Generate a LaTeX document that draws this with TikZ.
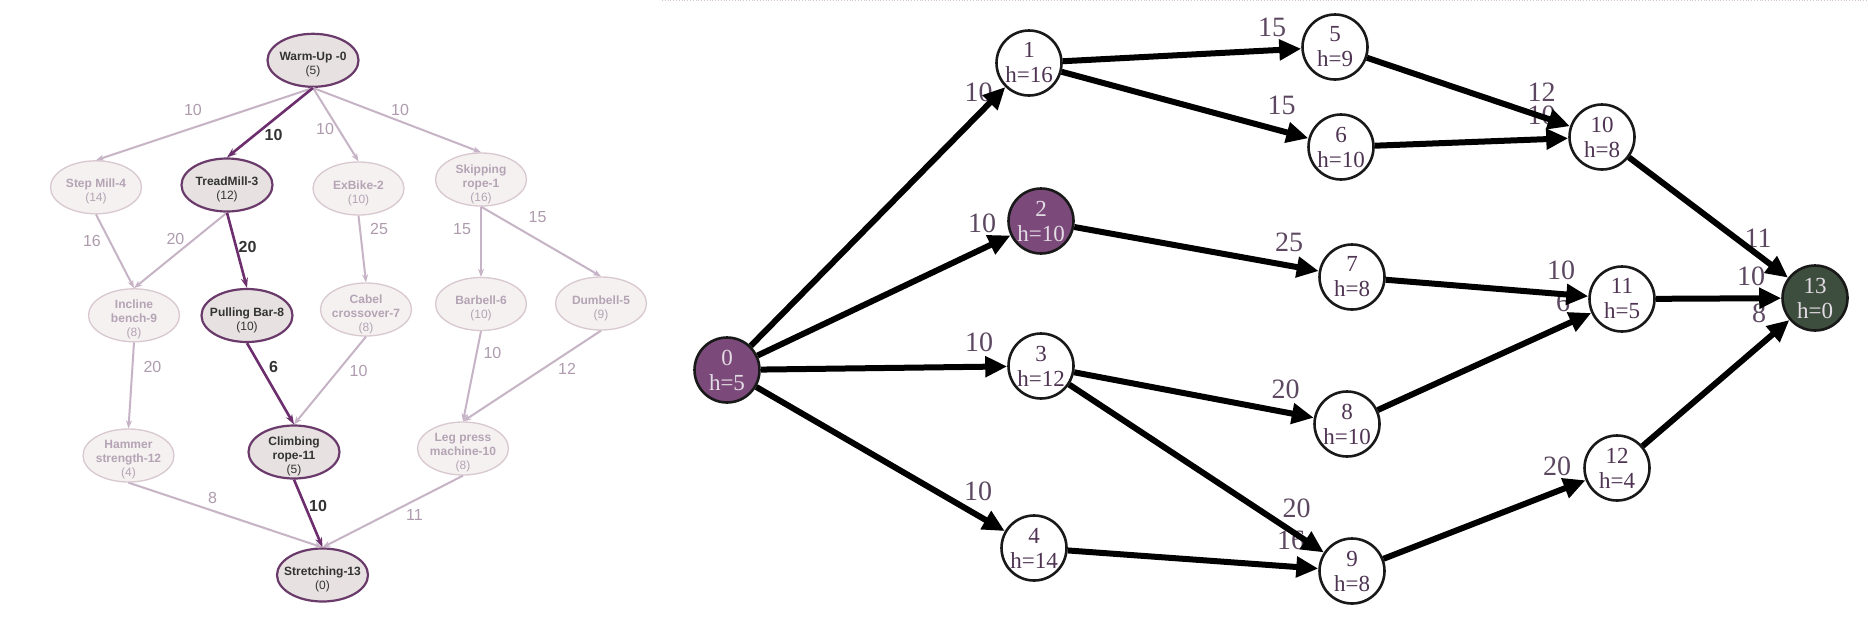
\documentclass[tikz,border=0pt]{standalone}
\usepackage{fontspec}
\setmainfont{Liberation Serif}
\newfontfamily\lsans{Liberation Sans}
\usetikzlibrary{arrows.meta,shapes.geometric}
\definecolor{gline}{HTML}{C6B4C6}
\definecolor{glab}{HTML}{AE9CAE}
\definecolor{gtextc}{HTML}{B4A4B4}
\definecolor{gfill}{HTML}{F5F1F1}
\definecolor{gborder}{HTML}{D8C8D0}
\definecolor{pline}{HTML}{6C2E6C}
\definecolor{afill}{HTML}{E7E1E1}
\definecolor{aborder}{HTML}{6A3A6A}
\definecolor{atext}{HTML}{333333}
\definecolor{rtext}{HTML}{4E3452}
\definecolor{rlab}{HTML}{5C4860}
\definecolor{rpurple}{HTML}{7B4A7B}
\definecolor{rgreen}{HTML}{3E4E3E}
\definecolor{rlight}{HTML}{E4DCE4}
\definecolor{topline}{HTML}{D4C4CC}
\begin{document}
\begin{tikzpicture}[x=1pt,y=-1pt,
  gnode/.style={ellipse,draw=gborder,fill=gfill,line width=1.3pt,minimum width=91pt,minimum height=53pt,inner sep=0pt},
  anode/.style={ellipse,draw=aborder,fill=afill,line width=2.2pt,minimum width=91pt,minimum height=53pt,inner sep=0pt},
  gtxt/.style={text=gtextc,font=\lsans\fontsize{12}{14}\selectfont,align=center,inner sep=0pt,yshift=-4.5pt},
  atxt/.style={text=atext,font=\lsans\fontsize{12}{14}\selectfont,align=center,inner sep=0pt,yshift=-4.5pt},
  gedge/.style={draw=gline,line width=2pt,-{Stealth[length=8pt,width=6pt]}},
  aedge/.style={draw=pline,line width=2.6pt,-{Stealth[length=10pt,width=7pt]}},
  glabel/.style={text=glab,font=\lsans\fontsize{16}{16}\selectfont,inner sep=0pt},
  alabel/.style={text=atext,font=\lsans\bfseries\fontsize{16}{16}\selectfont,inner sep=0pt},
  rnode/.style={circle,draw=black!90,line width=2.6pt,fill=white,minimum size=65pt,inner sep=0pt,text=rtext,align=center,font=\fontsize{23}{25}\selectfont},
  redge/.style={draw=black,line width=6pt,-{Triangle[length=22pt,width=20pt]}},
  rlabel/.style={text=rlab,font=\fontsize{28}{28}\selectfont,inner sep=0pt}
]
\useasboundingbox (0,0) rectangle (1868,622);
\fill[white] (0,0) rectangle (1868,622);
\draw[topline,dotted,line width=0.8pt] (662,0.6) -- (1868,0.6);

% ---------------- left panel: nodes ----------------
\node[anode] (L0) at (313,60.3) {};
\node[atxt] (L0t) at (L0) {\textbf{Warm-Up -0}\\(5)};
\node[gnode] (L4) at (96,187.3) {};
\node[gtxt] (L4t) at (L4) {\textbf{Step Mill-4}\\(14)};
\node[anode] (L3) at (227,185) {};
\node[atxt] (L3t) at (L3) {\textbf{TreadMill-3}\\(12)};
\node[gnode] (L2) at (358.5,188.5) {};
\node[gtxt] (L2t) at (L2) {\textbf{ExBike-2}\\(10)};
\node[gnode] (L1) at (481,179.5) {};
\node[gtxt] (L1t) at (L1) {\textbf{Skipping}\\\textbf{rope-1}\\(16)};
\node[gnode] (L9) at (134,315.3) {};
\node[gtxt] (L9t) at (L9) {\textbf{Incline}\\\textbf{bench-9}\\(8)};
\node[anode] (L8) at (247,315.5) {};
\node[atxt] (L8t) at (L8) {\textbf{Pulling Bar-8}\\(10)};
\node[gnode] (L7) at (366,309.5) {};
\node[gtxt] (L7t) at (L7) {\textbf{Cabel}\\\textbf{crossover-7}\\(8)};
\node[gnode] (L6) at (481,304) {};
\node[gtxt] (L6t) at (L6) {\textbf{Barbell-6}\\(10)};
\node[gnode] (L5) at (601,303.5) {};
\node[gtxt] (L5t) at (L5) {\textbf{Dumbell-5}\\(9)};
\node[gnode] (L12) at (128.5,455.5) {};
\node[gtxt] (L12t) at (L12) {\textbf{Hammer}\\\textbf{strength-12}\\(4)};
\node[anode] (L11) at (294,452) {};
\node[atxt] (L11t) at (L11) {\textbf{Climbing}\\\textbf{rope-11}\\(5)};
\node[gnode] (L10) at (463,448.5) {};
\node[gtxt] (L10t) at (L10) {\textbf{Leg press}\\\textbf{machine-10}\\(8)};
\node[anode] (L13) at (322.5,575) {};
\node[atxt] (L13t) at (L13) {\textbf{Stretching-13}\\(0)};

% ---------------- left panel: edges ----------------
\draw[gedge] (L0.south) -- (L4.north);
\draw[gedge] (L0.south) -- (L2.north);
\draw[gedge] (L0.south) -- (L1.north);
\draw[gedge] (L4.south) -- (L9.north);
\draw[gedge] (L3.south) -- (L9.north);
\draw[gedge] (L2.south) -- (L7.north);
\draw[gedge] (L1.south) -- (L6.north);
\draw[gedge] (L1.south) -- (L5.north);
\draw[gedge] (L9.south) -- (L12.north);
\draw[gedge] (L7.south) -- (L11.north);
\draw[gedge] (L6.south) -- (L10.north);
\draw[gedge] (L5.south) -- (L10.north);
\draw[gedge] (L12.south) -- (L13.north);
\draw[gedge] (L10.south) -- (L13.north);
\draw[aedge] (L0.south) -- (L3.north);
\draw[aedge] (L3.south) -- (L8.north);
\draw[aedge] (L8.south) -- (L11.north);
\draw[aedge] (L11.south) -- (L13.north);

% ---------------- left panel: edge labels ----------------
\node[glabel] (l04) at (193,110) {10};
\node[alabel] (l03) at (273.5,135) {10};
\node[glabel] (l02) at (325,129) {10};
\node[glabel] (l01) at (400,110) {10};
\node[glabel] (l49) at (92,240.5) {16};
\node[glabel] (l39) at (175.5,239) {20};
\node[alabel] (l38) at (247.5,247) {20};
\node[glabel] (l27) at (379,229) {25};
\node[glabel] (l16) at (462,229) {15};
\node[glabel] (l15) at (537.6,217) {15};
\node[glabel] (l912) at (152.5,367) {20};
\node[alabel] (l811) at (273.6,367) {6};
\node[glabel] (l711) at (358.5,371) {10};
\node[glabel] (l610) at (492.4,353) {10};
\node[glabel] (l510) at (567,369) {12};
\node[glabel] (l1213) at (212.6,498) {8};
\node[alabel] (l1113) at (318,506) {10};
\node[glabel] (l1013) at (414.5,515) {11};

% ---------------- right panel: nodes ----------------
\node[rnode,fill=rpurple,text=rlight] (R0) at (727,370) {0\\h=5};
\node[rnode] (R1) at (1029,63) {1\\h=16};
\node[rnode,fill=rpurple,text=rlight] (R2) at (1041,221) {2\\h=10};
\node[rnode] (R3) at (1041,366) {3\\h=12};
\node[rnode] (R4) at (1034,548) {4\\h=14};
\node[rnode] (R5) at (1335,47) {5\\h=9};
\node[rnode] (R6) at (1341,147) {6\\h=10};
\node[rnode] (R7) at (1352,277) {7\\h=8};
\node[rnode] (R8) at (1347,424) {8\\h=10};
\node[rnode] (R9) at (1352,571) {9\\h=8};
\node[rnode] (R10) at (1602,137) {10\\h=8};
\node[rnode] (R11) at (1622,299) {11\\h=5};
\node[rnode] (R12) at (1617,468) {12\\h=4};
\node[rnode,fill=rgreen,text=rlight] (R13) at (1815,298) {13\\h=0};

% ---------------- right panel: edge labels ----------------
\node[rlabel] (r01) at (978.5,92) {10};
\node[rlabel] (r02) at (982,223) {10};
\node[rlabel] (r03) at (979,342) {10};
\node[rlabel] (r04) at (978,491) {10};
\node[rlabel] (r15) at (1272,27) {15};
\node[rlabel] (r16) at (1281.5,105) {15};
\node[rlabel] (r27) at (1289,242) {25};
\node[rlabel] (r38) at (1285.5,389) {20};
\node[rlabel] (r39) at (1296.5,508) {20};
\node[rlabel] (r49) at (1291,540) {16};
\node[rlabel] (r510) at (1541.6,92) {12};
\node[rlabel] (r610) at (1541.6,115) {10};
\node[rlabel] (r711) at (1561,270) {10};
\node[rlabel] (r811) at (1563,302) {6};
\node[rlabel] (r912) at (1557,466) {20};
\node[rlabel] (r1013) at (1758,238) {11};
\node[rlabel] (r1113) at (1751,276) {10};
\node[rlabel] (r1213) at (1759,313) {8};

% ---------------- right panel: edges ----------------
\draw[redge] (R0) -- (R1);
\draw[redge] (R0) -- (R2);
\draw[redge] (R0) -- (R3);
\draw[redge] (R0) -- (R4);
\draw[redge] (R1) -- (R5);
\draw[redge] (R1) -- (R6);
\draw[redge] (R2) -- (R7);
\draw[redge] (R3) -- (R8);
\draw[redge] (R3) -- (R9);
\draw[redge] (R4) -- (R9);
\draw[redge] (R5) -- (R10);
\draw[redge] (R6) -- (R10);
\draw[redge] (R7) -- (R11);
\draw[redge] (R8) -- (R11);
\draw[redge] (R9) -- (R12);
\draw[redge] (R10) -- (R13);
\draw[redge] (R11) -- (R13);
\draw[redge] (R12) -- (R13);
\end{tikzpicture}
\end{document}
